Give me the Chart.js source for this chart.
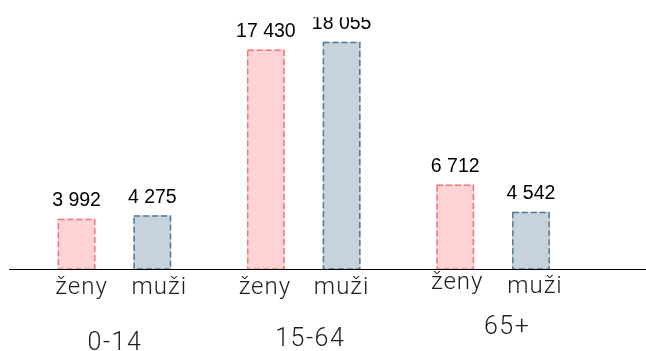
<!DOCTYPE html>
<html lang="cs">
<head>
<meta charset="utf-8">
<title>Obyvatelstvo podle věkových skupin a pohlaví</title>
<script src="https://cdn.jsdelivr.net/npm/chart.js@4/dist/chart.umd.min.js"></script>
<style>
  html, body { margin: 0; padding: 0; background: #ffffff; }
  #wrap { position: relative; width: 646px; height: 351px; }
  canvas { display: block; }
</style>
</head>
<body>
<div id="wrap"><canvas id="chart" width="646" height="351"></canvas></div>
<script>
// Age groups and population counts by sex
const ageGroups = ['0-14', '15-64', '65+'];
const sexLabels = ['ženy', 'muži'];
const zeny = [3992, 17430, 6712];
const muzi = [4275, 18055, 4542];
const yTicks = [0, 20000];

// Styling
const fillColors = ['#ffd3d6', '#c6d3dc'];
const edgeColors = ['#f0767c', '#557a92'];
const dataFont = '19.5px "Liberation Sans", Arial, sans-serif';
const axisFont = '300 24px Roboto, "Open Sans", sans-serif';
const groupFont = '300 25px Roboto, "Open Sans", sans-serif';

// Small hand nudges for the label text (dx, baseline offset below zero line)
const sexLabelNudge = [
  [[5, 25], [7, 25]],
  [[-1, 25], [0, 25]],
  [[2, 20], [4, 24]]
];
const groupLabelNudge = [[0.5, 81], [6.5, 77], [14, 65]];

function fmt(v) {
  return String(v).replace(/\B(?=(\d{3})+(?!\d))/g, ' ');
}

// Dashed outlines, value labels, zero line and category texts
const decorations = {
  id: 'decorations',
  afterDatasetsDraw(chart) {
    const ctx = chart.ctx;
    const area = chart.chartArea;
    const y = chart.scales.y;
    const x = chart.scales.x;
    const zeroY = y.getPixelForValue(0);

    chart.data.datasets.forEach((ds, di) => {
      const meta = chart.getDatasetMeta(di);
      meta.data.forEach((bar, i) => {
        const p = bar.getProps(['x', 'y', 'base', 'width'], true);
        const left = p.x - p.width / 2;
        ctx.save();
        ctx.strokeStyle = edgeColors[di];
        ctx.lineWidth = 1.5;
        ctx.setLineDash([6, 3]);
        ctx.strokeRect(left + 0.75, p.y + 0.75, p.width - 1.5, p.base - p.y - 0.75);
        ctx.restore();

        // value label, clipped to the plot area
        ctx.save();
        ctx.beginPath();
        ctx.rect(0, area.top, chart.width, chart.height - area.top);
        ctx.clip();
        ctx.fillStyle = '#000000';
        ctx.font = dataFont;
        ctx.textAlign = 'center';
        ctx.textBaseline = 'alphabetic';
        ctx.fillText(fmt(ds.data[i]), p.x, p.y - 12.5);
        ctx.restore();

        // sex label under each bar
        const n = sexLabelNudge[i][di];
        ctx.save();
        ctx.fillStyle = '#1e1e1e';
        ctx.font = axisFont;
        ctx.letterSpacing = '1px';
        ctx.textAlign = 'center';
        ctx.textBaseline = 'alphabetic';
        ctx.fillText(sexLabels[di], p.x + n[0], zeroY + n[1]);
        ctx.restore();
      });
    });

    // zero line
    ctx.save();
    ctx.strokeStyle = '#000000';
    ctx.lineWidth = 1;
    ctx.beginPath();
    ctx.moveTo(9, Math.round(zeroY) + 0.5);
    ctx.lineTo(chart.width, Math.round(zeroY) + 0.5);
    ctx.stroke();
    ctx.restore();

    // age group labels
    ageGroups.forEach((g, i) => {
      const cx = x.getPixelForValue(i);
      const n = groupLabelNudge[i];
      ctx.save();
      ctx.fillStyle = '#1e1e1e';
      ctx.font = groupFont;
      ctx.letterSpacing = '1.5px';
      ctx.textAlign = 'center';
      ctx.textBaseline = 'alphabetic';
      ctx.fillText(g, cx + n[0], zeroY + n[1]);
      ctx.restore();
    });
  }
};

new Chart(document.getElementById('chart'), {
  type: 'bar',
  data: {
    labels: ageGroups,
    datasets: [
      { label: sexLabels[0], data: zeny, backgroundColor: fillColors[0], borderWidth: 0 },
      { label: sexLabels[1], data: muzi, backgroundColor: fillColors[1], borderWidth: 0 }
    ]
  },
  options: {
    responsive: false,
    animation: false,
    devicePixelRatio: 1,
    layout: { padding: { left: 19.75, right: 58.25, top: 17.2, bottom: 82 } },
    datasets: { bar: { categoryPercentage: 0.8, barPercentage: 0.5 } },
    plugins: { legend: { display: false }, tooltip: { enabled: false } },
    scales: {
      x: { display: false },
      y: { display: false, min: yTicks[0], max: yTicks[1] }
    }
  },
  plugins: [decorations]
});
</script>
</body>
</html>
